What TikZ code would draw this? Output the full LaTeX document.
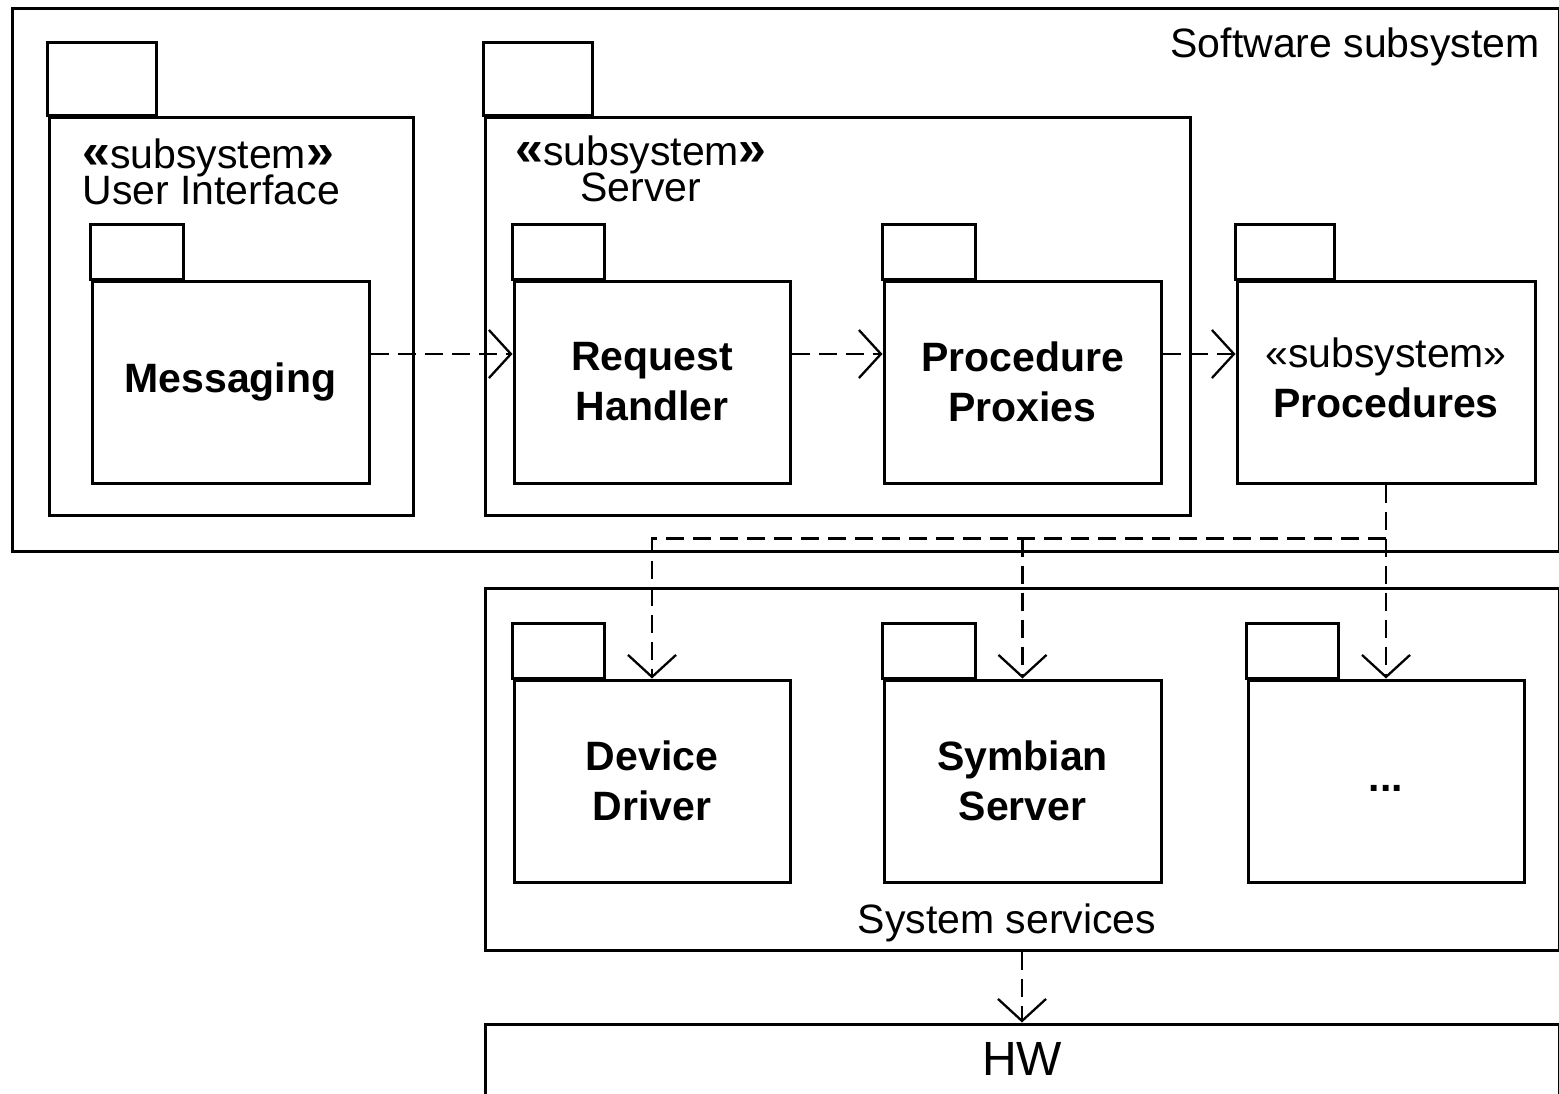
\documentclass[tikz,border=0pt]{standalone}
\usepackage{fontspec}
\setmainfont{Liberation Sans}
\usetikzlibrary{arrows.meta}

\newcommand{\gopen}{{\fontsize{25}{18}\selectfont\textbf{«}}}
\newcommand{\gclose}{{\fontsize{25}{18}\selectfont\textbf{»}}}

\tikzset{
  frame/.style={draw, line width=1.5pt, inner sep=0pt},
  pkg/.style={draw, line width=1.5pt, inner sep=0pt, align=center,
    font=\bfseries\fontsize{20.5}{25}\selectfont},
  tab/.style={line width=1.5pt},
  stereo/.style={inner sep=0pt, font={\fontsize{20.5}{18}\selectfont\lineskiplimit=-100pt}},
  caption/.style={inner sep=0pt, font=\fontsize{20.5}{20.5}\selectfont},
  dep/.style={line width=1.15pt, dash pattern=on 9pt off 4.5pt,
    -{Straight Barb[length=11pt,width=24pt]}}
}

\begin{document}
\begin{tikzpicture}[x=0.5pt,y=-0.5pt]
  \useasboundingbox (0,0) rectangle (1559,1093);
  \fill[white] (0,0) rectangle (1559,1093);
  \clip (0,0) rectangle (1559,1093);

  % outer frames
  \node[frame, minimum width=773.5pt, minimum height=271.5pt] (sw) at (785.5,279.5) {};
  \node[caption, anchor=base east] (swlabel) at (1540,57) {Software subsystem};
  \node[frame, minimum width=537pt, minimum height=181pt] (sysserv) at (1022,769) {};
  \node[caption, anchor=base] (syslabel) at (1007,933) {System services};
  \node[frame, minimum width=537pt, minimum height=36pt] (hw) at (1022,1060) {};
  \node[inner sep=0pt, font=\fontsize{24}{24}\selectfont, anchor=base] (hwlabel) at (1022,1075) {HW};

  % subsystems
  \node[pkg, minimum width=182pt, minimum height=199pt] (ui) at (231,316) {};
  \draw[tab] (ui.north west) rectangle ++(109,-73);
  \node[stereo, align=left, anchor=north west] (uilabel) at (82,138)
    {\gopen subsystem\gclose\\User Interface};
  \node[pkg, minimum width=352.5pt, minimum height=199pt] (server) at (837.5,316) {};
  \draw[tab] (server.north west) rectangle ++(109,-73);
  \node[stereo, align=center, anchor=north] (serverlabel) at (641,135)
    {\gopen subsystem\gclose\\Server};

  % packages
  \node[pkg, minimum width=138.5pt, minimum height=101pt] (msg) at (230.5,382) {Messaging};
  \draw[tab] (msg.north west) rectangle ++(93,-55);
  \node[pkg, minimum width=138pt, minimum height=101pt] (reqh) at (652,382) {Request\\Handler};
  \draw[tab] (reqh.north west) rectangle ++(92,-55);
  \node[pkg, minimum width=138.5pt, minimum height=101pt] (proxies) at (1022.5,382) {Procedure\\Proxies};
  \draw[tab] (proxies.north west) rectangle ++(93,-55);
  \node[pkg, minimum width=149pt, minimum height=101pt] (procs) at (1386,382)
    {{\mdseries «subsystem»}\\Procedures\vphantom{y}};
  \draw[tab] (procs.north west) rectangle ++(99,-55);

  \node[pkg, minimum width=138pt, minimum height=101pt] (driver) at (652,781) {Device\\Driver};
  \draw[tab] (driver.north west) rectangle ++(92,-55);
  \node[pkg, minimum width=138.5pt, minimum height=101pt] (symb) at (1022.5,781) {Symbian\\Server};
  \draw[tab] (symb.north west) rectangle ++(93,-55);
  \node[pkg, minimum width=138pt, minimum height=101pt] (more) at (1386,781) {\strut...};
  \draw[tab] (more.north west) rectangle ++(92,-55);

  % dependencies
  \draw[dep] ([yshift=14pt]msg.east) -- ([yshift=14pt]reqh.west);
  \draw[dep] ([yshift=14pt]reqh.east) -- ([yshift=14pt]proxies.west);
  \draw[dep] ([yshift=14pt]proxies.east) -- ([yshift=14pt]procs.west);
  \path (procs.south) ++(0,54) coordinate (fork);
  \draw[dep] (procs.south) -- (more.north);
  \draw[dep] (fork) -| (driver.north);
  \draw[dep] (fork -| symb.north) -- (symb.north);
  \draw[dep] (sysserv.south) -- (hw.north);
\end{tikzpicture}
\end{document}
